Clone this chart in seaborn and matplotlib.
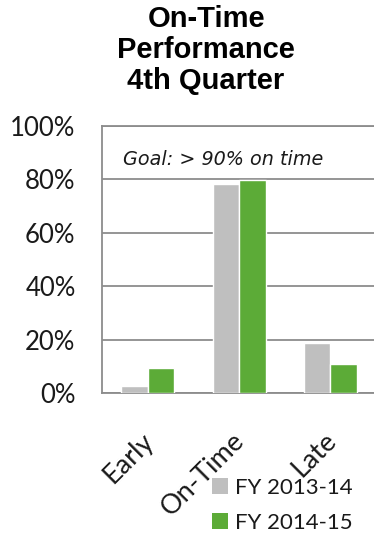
import matplotlib
matplotlib.use("Agg")
import matplotlib.pyplot as plt
import matplotlib.transforms as mtrans
import seaborn as sns
import pandas as pd
from matplotlib.ticker import FuncFormatter
from matplotlib.patches import Patch

categories = ["Early", "On-Time", "Late"]
series_names = ["FY 2013-14", "FY 2014-15"]
fy1314 = [0.028, 0.784, 0.186]
fy1415 = [0.093, 0.797, 0.108]
title = "On-Time\nPerformance\n4th Quarter"
goal_text = "Goal: > 90% on time"

df = pd.DataFrame({
    "category": categories * 2,
    "series": [series_names[0]] * 3 + [series_names[1]] * 3,
    "value": fy1314 + fy1415,
})

sns.set_theme(style="white")
plt.rcParams["font.family"] = ["Lato", "DejaVu Sans"]

fig = plt.figure(figsize=(3.74, 5.39), dpi=100)
ax = fig.add_axes([0.2727, 0.2709, 0.733, 0.4954])

palette = {series_names[0]: "#BFBFBF", series_names[1]: "#5CAB37"}
sns.barplot(data=df, x="category", y="value", hue="series", order=categories,
            hue_order=series_names, palette=palette, width=0.58, saturation=1,
            ax=ax, legend=False, zorder=3)

ax.set_ylim(0, 1.0)
ax.set_yticks([0, 0.2, 0.4, 0.6, 0.8, 1.0])
ax.yaxis.set_major_formatter(FuncFormatter(lambda v, p: f"{int(round(v*100))}%"))
ax.set_xlabel("")
ax.set_ylabel("")
ax.grid(axis="y", color="#8C8C8C", linewidth=1.3, zorder=0)
for s in ["left", "bottom", "top", "right"]:
    ax.spines[s].set_color("#8C8C8C")
    ax.spines[s].set_linewidth(1.3)
ax.tick_params(axis="y", labelsize=18.5, labelcolor="#1a1a1a", pad=19, length=0)
ax.tick_params(axis="x", labelsize=19.5, labelcolor="#1a1a1a", length=0, pad=25)
offset = mtrans.ScaledTranslation(-7 / 100, 0, fig.dpi_scale_trans)
for lab in ax.get_xticklabels():
    lab.set_rotation(45)
    lab.set_ha("right")
    lab.set_va("top")
    lab.set_rotation_mode("anchor")
    lab.set_transform(lab.get_transform() + offset)

ax.text(0.075, 0.875, goal_text, transform=ax.transAxes, fontsize=13.8,
        fontstyle="italic", ha="left", va="center", color="#1a1a1a",
        family=["DejaVu Sans"])

fig.text(0.551, 0.99, title, ha="center", va="top", fontsize=21,
         fontweight="bold", linespacing=1.12,
         family=["Liberation Sans", "DejaVu Sans"], color="#000000")

handles = [Patch(facecolor=palette[n], edgecolor="none") for n in series_names]
leg = fig.legend(handles, series_names, loc="upper left",
                 bbox_to_anchor=(0.568, 0.114), frameon=False,
                 fontsize=16, handlelength=0.72, handleheight=0.72,
                 handletextpad=0.3, labelspacing=0.68, borderaxespad=0,
                 borderpad=0)
for t in leg.get_texts():
    t.set_color("#1a1a1a")

fig.savefig("out.png", dpi=100)
